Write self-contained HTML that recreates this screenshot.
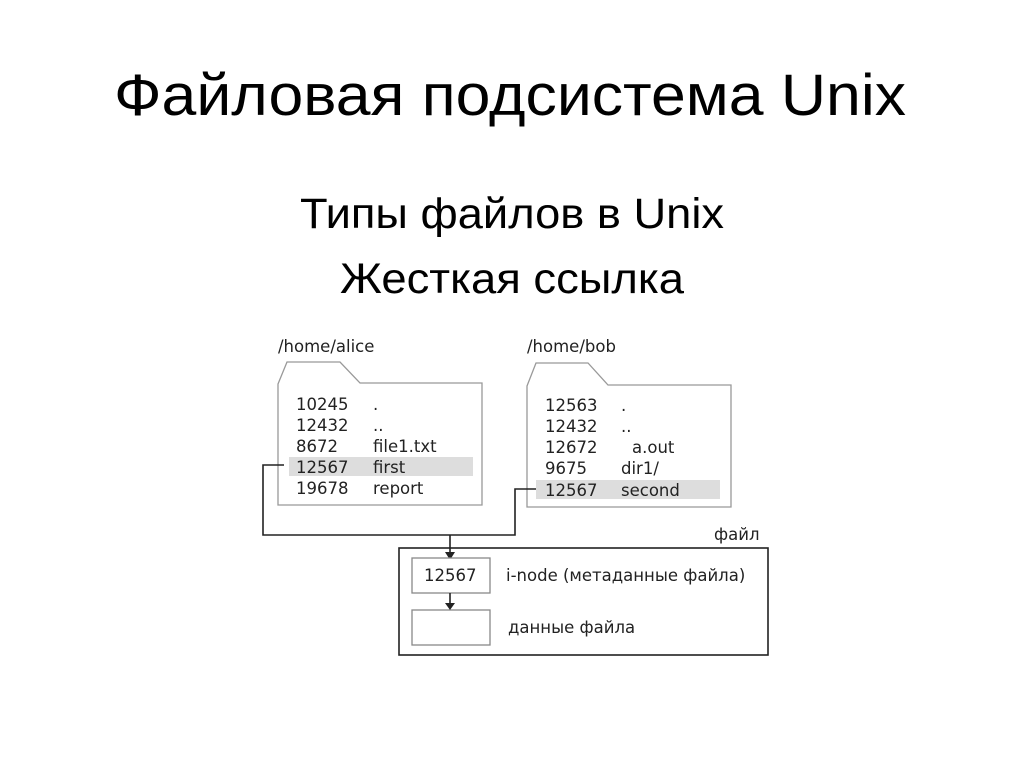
<!DOCTYPE html>
<html><head><meta charset="utf-8"><style>html,body{margin:0;padding:0;background:#fff}svg{display:block}</style></head>
<body>
<svg width="1024" height="767" viewBox="0 0 1024 767" xmlns="http://www.w3.org/2000/svg">
<rect width="1024" height="767" fill="#fff"/>
<g font-family="Liberation Sans, sans-serif" fill="#000">
<text x="114" y="115" font-size="58" textLength="792" lengthAdjust="spacingAndGlyphs">Файловая подсистема Unix</text>
<text x="300" y="228" font-size="43" textLength="424" lengthAdjust="spacingAndGlyphs">Типы файлов в Unix</text>
<text x="340" y="293" font-size="43" textLength="344" lengthAdjust="spacingAndGlyphs">Жесткая ссылка</text>
</g>
<g font-family="DejaVu Sans, sans-serif" font-size="16.5" fill="#222">
<text x="278" y="352">/home/alice</text>
<text x="527" y="352">/home/bob</text>
<path d="M278 505 V384 L287 362 H340 L360 383 H482 V505 Z" fill="#fff" stroke="#999" stroke-width="1.3"/>
<path d="M527 507 V386 L536 363 H588 L608 385 H731 V507 Z" fill="#fff" stroke="#999" stroke-width="1.3"/>
<rect x="289" y="457" width="184" height="19" fill="#ddd"/>
<rect x="536" y="480" width="184" height="19" fill="#ddd"/>
<text x="296" y="410">10245</text><text x="373" y="410">.</text>
<text x="296" y="431">12432</text><text x="373" y="431">..</text>
<text x="296" y="452">8672</text><text x="373" y="452">file1.txt</text>
<text x="296" y="473">12567</text><text x="373" y="473">first</text>
<text x="296" y="494">19678</text><text x="373" y="494">report</text>
<text x="545" y="411">12563</text><text x="621" y="411">.</text>
<text x="545" y="432">12432</text><text x="621" y="432">..</text>
<text x="545" y="453">12672</text><text x="632" y="453">a.out</text>
<text x="545" y="474">9675</text><text x="621" y="474">dir1/</text>
<text x="545" y="496">12567</text><text x="621" y="496">second</text>
<path d="M284 465 H263 V535 H515 V489 H536" fill="none" stroke="#222" stroke-width="1.6"/>
<path d="M450 535 V553" stroke="#222" stroke-width="1.6"/>
<path d="M445 552 L455 552 L450 560 Z" fill="#222"/>
<text x="714" y="540">файл</text>
<rect x="399" y="548" width="369" height="107" fill="none" stroke="#222" stroke-width="1.6"/>
<rect x="412" y="558" width="78" height="35" fill="#fff" stroke="#888" stroke-width="1.3"/>
<rect x="412" y="610" width="78" height="35" fill="#fff" stroke="#888" stroke-width="1.3"/>
<path d="M450 593 V604" stroke="#222" stroke-width="1.6"/>
<path d="M445 603 L455 603 L450 610 Z" fill="#222"/>
<text x="424" y="581">12567</text>
<text x="506" y="581">i-node (метаданные файла)</text>
<text x="508" y="633">данные файла</text>
</g>
</svg>
</body></html>
